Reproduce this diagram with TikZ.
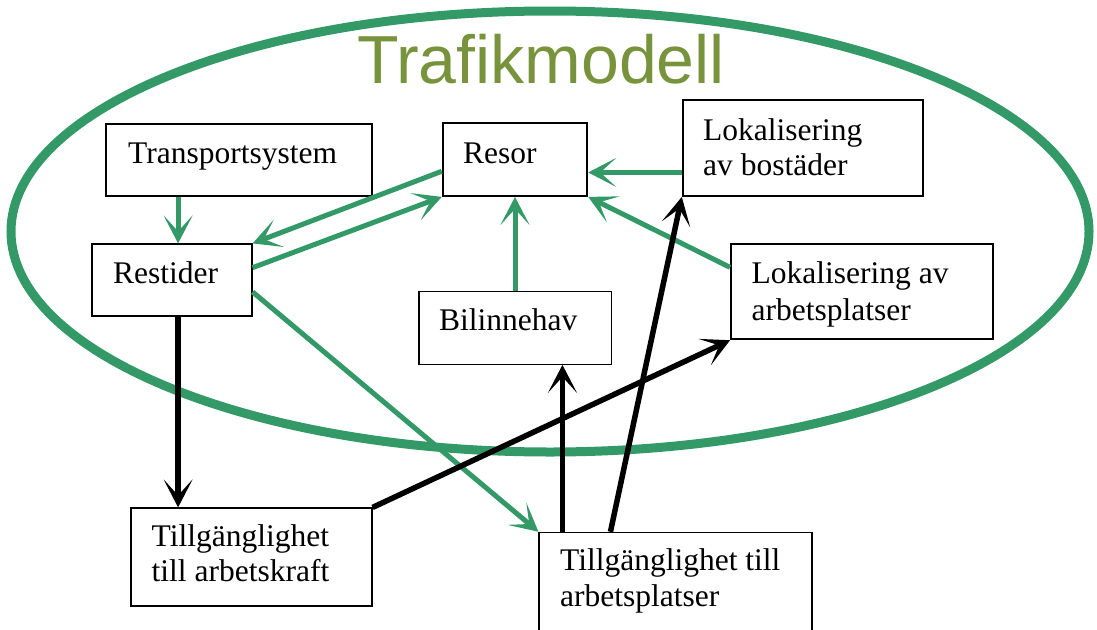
\documentclass[tikz,border=0pt]{standalone}
\usepackage{fontspec}
\setmainfont{Liberation Serif}
\newfontfamily\titlefont{Liberation Sans}
\usetikzlibrary{arrows.meta,calc}
\definecolor{ringgreen}{RGB}{51,153,102}
\definecolor{titlegreen}{RGB}{119,147,60}
\begin{document}
\begin{tikzpicture}[x=1pt,y=-1pt,
  box/.style={draw=black, line width=1.8pt, fill=white, inner sep=0pt, rectangle},
  thinbox/.style={box, line width=1.1pt},
  txt/.style={anchor=base west, inner sep=0pt, font=\fontsize{31.5}{35}\selectfont},
  garrow/.style={draw=ringgreen, line width=5pt, -{Stealth[length=28pt,width=29pt,inset=16pt]}},
  barrow/.style={draw=black, line width=5.5pt, -{Stealth[length=28pt,width=29pt,inset=16pt]}}]
\clip (0,0) rectangle (1097,629);
\fill[white] (0,0) rectangle (1097,629);
% ring
\draw[ringgreen, line width=9pt] (550,231.5) ellipse [x radius=539pt, y radius=220.5pt];
\node[font=\titlefont\fontsize{68}{68}\selectfont, text=titlegreen, anchor=base, inner sep=0pt] (title) at (541,83) {Trafikmodell};
% boxes
\node[box, minimum width=265.7pt, minimum height=72pt] (ts) at (238.85,160) {};
\node[box, minimum width=159.7pt, minimum height=71.7pt] (rs) at (171.85,280.15) {};
\node[box, minimum width=144.6pt, minimum height=72.7pt] (resor) at (515,159.65) {};
\node[thinbox, minimum width=192.7pt, minimum height=72.6pt] (bil) at (515.35,328) {};
\node[box, minimum width=240.6pt, minimum height=96pt] (lb) at (803,148) {};
\node[box, minimum width=262pt, minimum height=95.3pt] (la) at (862,291.65) {};
\node[box, minimum width=240.7pt, minimum height=97.4pt] (tak) at (251.35,557) {};
\node[thinbox, minimum width=273pt, minimum height=129.7pt] (tap) at (675.5,597.15) {};
% texts
\node[txt] (t-ts) at (128,163) {Transportsystem};
\node[txt] (t-resor) at (463,163) {Resor};
\node[txt] (t-rs) at (113,283) {Restider};
\node[txt] (t-bil) at (439,330) {Bilinnehav};
\node[txt] (t-lb1) at (703,140) {Lokalisering};
\node[txt] (t-lb2) at (703,175) {av bostäder};
\node[txt] (t-la1) at (751.5,283.3) {Lokalisering av};
\node[txt] (t-la2) at (751.5,320) {arbetsplatser};
\node[txt] (t-tak1) at (151.5,546.7) {Tillgänglighet};
\node[txt] (t-tak2) at (151.5,581.7) {till arbetskraft};
\node[txt] (t-tap1) at (560,570) {Tillgänglighet till};
\node[txt] (t-tap2) at (560,606.7) {arbetsplatser};
% green connectors
\draw[garrow] ($(ts.south west)+(73,0)$) -- ($(rs.north west)+(87,0)$);
\draw[garrow] ($(resor.north west)!0.656!(resor.south west)$) -- (rs.north east);
\draw[garrow] ($(rs.north east)!0.33!(rs.south east)$) -- (resor.south west);
\coordinate (p4) at ($(lb.north west)!0.75!(lb.south west)$);
\draw[garrow] (p4) -- (resor.east |- p4);
\draw[garrow] ($(la.north west)!0.25!(la.south west)$) -- (resor.south east);
\draw[garrow] (resor.south |- bil.north) -- (resor.south);
\draw[garrow] ($(rs.north east)!0.66!(rs.south east)$) -- (tap.north west);
% black connectors
\draw[barrow] ($(rs.south west)+(87,0)$) -- ($(tak.north west)+(48,0)$);
\draw[barrow] (tak.north east) -- (la.south west);
\coordinate (p10) at ($(tap.north west)+(24,0)$);
\draw[barrow] (p10) -- (bil.south -| p10);
\draw[barrow] ($(tap.north west)+(72,0)$) -- (lb.south west);
\end{tikzpicture}
\end{document}
